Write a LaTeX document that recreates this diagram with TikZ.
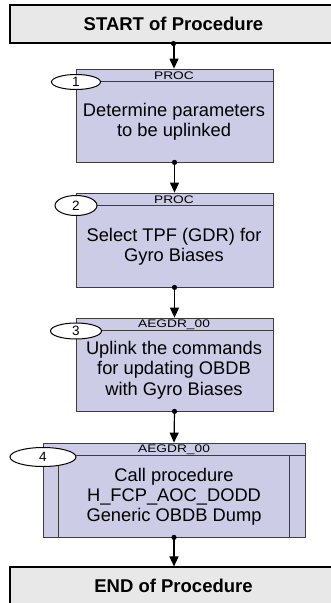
\documentclass[tikz,border=0pt]{standalone}
\usepackage{fontspec}
\setmainfont{Liberation Sans}
\usetikzlibrary{arrows.meta,shapes.geometric}
\definecolor{lav}{RGB}{204,204,230}
\definecolor{termfill}{RGB}{232,232,232}
\definecolor{boxline}{RGB}{60,60,60}
\tikzset{
  termbox/.style={draw=black, line width=1.1pt, fill=termfill, minimum width=327pt, minimum height=38pt, inner sep=0pt,
    font=\fontsize{18.5}{20}\selectfont\bfseries},
  procbox/.style={draw=boxline, line width=0.8pt, fill=lav, minimum width=197pt, minimum height=93pt, inner sep=0pt},
  callbox/.style={draw=boxline, line width=0.8pt, fill=lav, minimum width=262pt, minimum height=94pt, inner sep=0pt},
  bodytext/.style={align=center, inner sep=0pt, font=\fontsize{18.3}{20}\selectfont},
  headtext/.style={inner sep=0pt, font=\fontsize{11}{12}\selectfont},
  numoval/.style={draw=black, line width=1pt, fill=white, ellipse, inner sep=0pt, font=\fontsize{13.5}{14}\selectfont},
  conn/.style={draw=black, line width=1.2pt, -{Triangle[length=10pt,width=9pt]}},
  dot/.style={fill=black}
}
\newcommand{\hscale}[1]{\scalebox{1.25}[1]{#1}}
\begin{document}
\begin{tikzpicture}[x=1pt,y=-1pt]
\useasboundingbox (0,0) rectangle (331,603);
% terminals
\node[termbox] (start) at (173.5,24) {START of Procedure};
\node[termbox] (end) at (173.5,586) {END of Procedure};
% box 1
\node[procbox] (b1) at (174.5,115.5) {};
\draw[boxline, line width=0.8pt] ([yshift=-13pt]b1.north west) -- ([yshift=-13pt]b1.north east);
\node[headtext] (b1h) at (174,75.5) {\hscale{PROC}};
\node[bodytext] (b1t) at (174,122) {Determine parameters\\to be uplinked};
\node[numoval, minimum width=49pt, minimum height=15pt] (n1) at (76,82) {1};
% box 2
\node[procbox, minimum height=94pt] (b2) at (174.5,240) {};
\draw[boxline, line width=0.8pt] ([yshift=-13pt]b2.north west) -- ([yshift=-13pt]b2.north east);
\node[headtext] (b2h) at (174,199.5) {\hscale{PROC}};
\node[bodytext] (b2t) at (174,247) {Select TPF (GDR) for\\Gyro Biases};
\node[numoval, minimum width=42pt, minimum height=20pt] (n2) at (76,205.5) {2};
% box 3
\node[procbox] (b3) at (174.5,364.5) {};
\draw[boxline, line width=0.8pt] ([yshift=-13pt]b3.north west) -- ([yshift=-13pt]b3.north east);
\node[headtext] (b3h) at (174,324.5) {\hscale{AEGDR\_00}};
\node[bodytext, font=\fontsize{18.3}{20.5}\selectfont] (b3t) at (174,370) {Uplink the commands\\for updating OBDB\\with Gyro Biases};
\node[numoval, minimum width=51pt, minimum height=16pt] (n3) at (76,331) {3};
% box 4
\node[callbox] (b4) at (174,490) {};
\draw[boxline, line width=0.8pt] ([yshift=-13pt]b4.north west) -- ([yshift=-13pt]b4.north east);
\draw[boxline, line width=0.8pt] ([xshift=16pt,yshift=-13pt]b4.north west) -- ([xshift=16pt]b4.south west);
\draw[boxline, line width=0.8pt] ([xshift=-16pt,yshift=-13pt]b4.north east) -- ([xshift=-16pt]b4.south east);
\node[headtext] (b4h) at (174,449.5) {\hscale{AEGDR\_00}};
\node[bodytext] (b4t) at (174,497) {Call procedure\\H\_FCP\_AOC\_DODD\\Generic OBDB Dump};
\node[numoval, minimum width=66pt, minimum height=19pt] (n4) at (43,457) {4};
% connectors
\draw[conn] ([xshift=0.5pt]start.south) -- ([xshift=-0.5pt]b1.north);
\draw[conn] (b1.south) -- (b2.north);
\draw[conn] (b2.south) -- (b3.north);
\draw[conn] (b3.south) -- (b4.north);
\draw[conn] (b4.south) -- ([xshift=0.5pt]end.north);
\foreach \n in {start.south,b1.south,b2.south,b3.south,b4.south}{\fill[dot] (\n) circle (2.6pt);}
\end{tikzpicture}
\end{document}
